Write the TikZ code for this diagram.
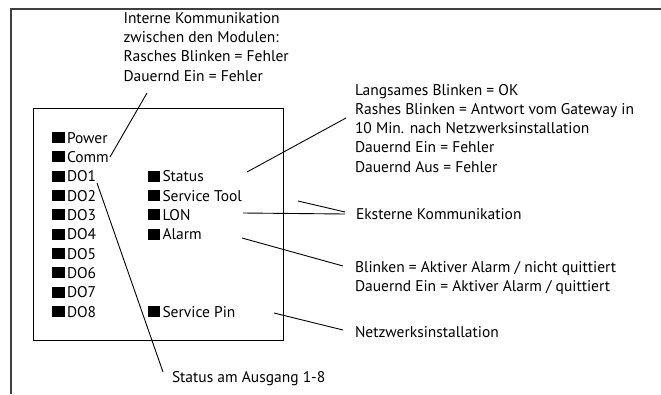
\documentclass[tikz,border=0pt]{standalone}
\usepackage{fontspec}
\setmainfont{PT Sans}
\newcommand\ledmark{\rule{12.5pt}{11pt}\hspace{2.5pt}}
\begin{document}
\begin{tikzpicture}[x=1pt,y=-1pt,
  txt/.style={inner sep=0pt, outer sep=0pt, anchor=base west, text=black,
    font=\fontsize{15.5}{19.3}\selectfont},
  ledlabel/.style={txt},
  frameline/.style={draw=black!75, line width=1.3pt},
  boxline/.style={draw=black, line width=1pt},
  leader/.style={draw=black, line width=0.9pt}]
\useasboundingbox (0,0) rectangle (661,394);
% outer frame (top and left only)
\draw[frameline] (11,394) -- (11,9) -- (661,9);
% module box
\draw[boxline] (33,108) rectangle (283,340);
% LEDs column 1
\node[ledlabel] (power) at (52,143) {\ledmark Power};
\node[ledlabel] (comm)  at (52,162.4) {\ledmark Comm};
\node[ledlabel] (do1)   at (52,181.7) {\ledmark DO1};
\node[ledlabel] (do2)   at (52,201) {\ledmark DO2};
\node[ledlabel] (do3)   at (52,220.4) {\ledmark DO3};
\node[ledlabel] (do4)   at (52,239.7) {\ledmark DO4};
\node[ledlabel] (do5)   at (52,259) {\ledmark DO5};
\node[ledlabel] (do6)   at (52,278.4) {\ledmark DO6};
\node[ledlabel] (do7)   at (52,297.7) {\ledmark DO7};
\node[ledlabel] (do8)   at (52,317) {\ledmark DO8};
% LEDs column 2
\node[ledlabel] (status) at (147.5,181.7) {\ledmark Status};
\node[ledlabel] (stool)  at (147.5,201) {\ledmark Service Tool};
\node[ledlabel] (lon)    at (147.5,220.4) {\ledmark LON};
\node[ledlabel] (alarm)  at (147.5,239.7) {\ledmark Alarm};
\node[ledlabel] (spin)   at (147.5,317) {\ledmark Service Pin};
% annotations
\node[txt] (intern) at (123.5,23.3) {\begin{tabular}[t]{@{}l@{}}Interne Kommunikation\\zwischen den Modulen:\\Rasches Blinken = Fehler\\Dauernd Ein = Fehler\end{tabular}};
\node[txt] (statusinfo) at (355,95) {\begin{tabular}[t]{@{}l@{}}Langsames Blinken = OK\\Rashes Blinken = Antwort vom Gateway in\\10 Min. nach Netzwerksinstallation\\Dauernd Ein = Fehler\\Dauernd Aus = Fehler\end{tabular}};
\node[txt] (ekstern) at (356,219.3) {Eksterne Kommunikation};
\node[txt] (alarminfo) at (355,272.3) {\begin{tabular}[t]{@{}l@{}}Blinken = Aktiver Alarm / nicht quittiert\\Dauernd Ein = Aktiver Alarm / quittiert\end{tabular}};
\node[txt] (netz) at (355,337.7) {Netzwerksinstallation};
\node[txt] (ausgang) at (172,382.7) {Status am Ausgang 1-8};
% leader end points
\coordinate (c1a) at (110,157);   \coordinate (c1b) at (147,93);
\coordinate (c2a) at (247,172);   \coordinate (c2b) at (346,118);
\coordinate (c3a) at (298,201);   \coordinate (c3b) at (345,212);
\coordinate (c4a) at (243,213);   \coordinate (c4b) at (345,214);
\coordinate (c5a) at (242,238);   \coordinate (c5b) at (343,266);
\coordinate (c6a) at (274,313);   \coordinate (c6b) at (343,330);
\coordinate (c7a) at (97,183);    \coordinate (c7b) at (163,372);
\draw[leader] (c1a) -- (c1b);
\draw[leader] (c2a) -- (c2b);
\draw[leader] (c3a) -- (c3b);
\draw[leader] (c4a) -- (c4b);
\draw[leader] (c5a) -- (c5b);
\draw[leader] (c6a) -- (c6b);
\draw[leader] (c7a) -- (c7b);
\end{tikzpicture}
\end{document}
